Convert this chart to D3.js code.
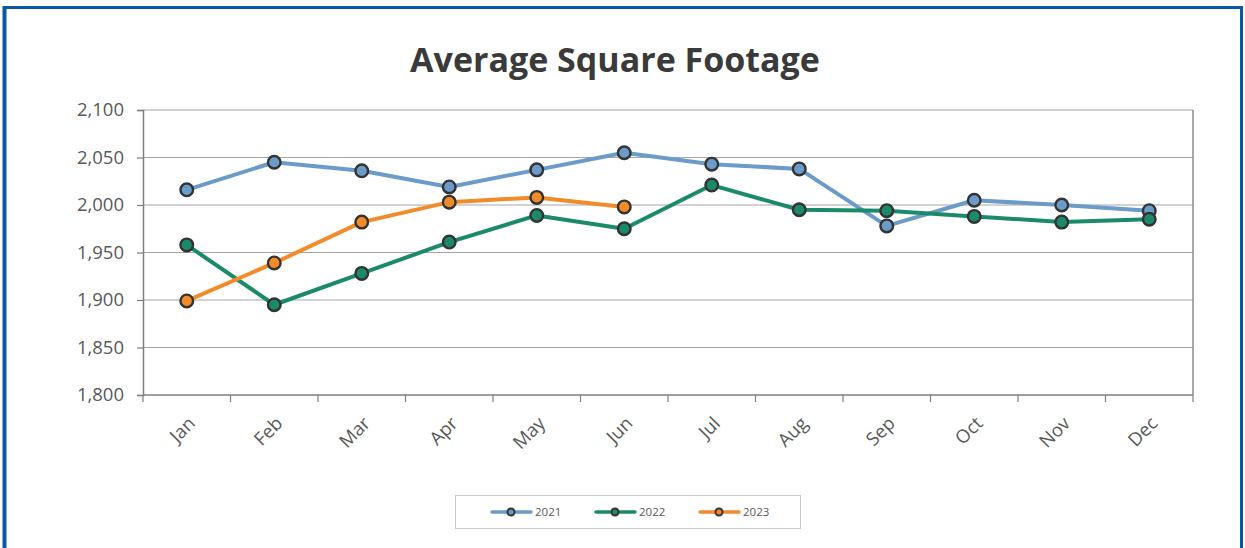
<!DOCTYPE html>
<html>
<head>
<meta charset="utf-8">
<script src="https://cdn.jsdelivr.net/npm/d3@7"></script>
<style>
  html, body { margin: 0; padding: 0; background: #fff; }
  svg { display: block; font-family: "Open Sans", "Noto Sans", sans-serif; }
</style>
</head>
<body>
<svg id="chart" width="1245" height="548"></svg>
<script>
// chart data
const months = ['Jan', 'Feb', 'Mar', 'Apr', 'May', 'Jun', 'Jul', 'Aug', 'Sep', 'Oct', 'Nov', 'Dec'];
const sqft2021 = [2016, 2045, 2036, 2019, 2037, 2055, 2043, 2038, 1978, 2005, 2000, 1994];
const sqft2022 = [1958, 1895, 1928, 1961, 1989, 1975, 2021, 1995, 1994, 1988, 1982, 1985];
const sqft2023 = [1899, 1939, 1982, 2003, 2008, 1998];
const yTicks = [1800, 1850, 1900, 1950, 2000, 2050, 2100];

const series = [
    { name: '2021', values: sqft2021, color: '#6b9bc8' },
    { name: '2022', values: sqft2022, color: '#1b8a6b' },
    { name: '2023', values: sqft2023, color: '#f28b2a' }
];

const svg = d3.select('#chart');
const plotLeft = 143, plotRight = 1193, plotTop = 110, plotBottom = 395;

// outer frame
svg.append('path')
    .attr('d', 'M5,548 L5,7.5 L1241.5,7.5 L1241.5,548')
    .attr('fill', 'none')
    .attr('stroke', '#0a58a4')
    .attr('stroke-width', 3);
svg.append('rect').attr('x', 2.5).attr('y', 6).attr('width', 2).attr('height', 542).attr('fill', '#0a58a4');

svg.append('text')
    .attr('x', 615)
    .attr('y', 72)
    .attr('text-anchor', 'middle')
    .attr('fill', '#3a3a3a')
    .style('font-size', '34px')
    .style('font-weight', 'bold')
    .text('Average Square Footage');

const x = d3.scaleBand().domain(months).range([plotLeft, plotRight]);
const y = d3.scaleLinear().domain([1800, 2100]).range([plotBottom, plotTop]);

// gridlines
svg.append('g')
    .selectAll('line')
    .data(yTicks.slice(1))
    .enter()
    .append('line')
    .attr('x1', plotLeft)
    .attr('x2', plotRight)
    .attr('y1', d => y(d))
    .attr('y2', d => y(d))
    .attr('stroke', '#a6a6a6')
    .attr('stroke-width', 1);

// right frame line
svg.append('line')
    .attr('x1', plotRight).attr('x2', plotRight)
    .attr('y1', plotTop).attr('y2', plotBottom)
    .attr('stroke', '#8c8c8c')
    .attr('stroke-width', 1.5);

const yAxis = svg.append('g')
    .attr('transform', `translate(${plotLeft},0)`)
    .call(d3.axisLeft(y).tickValues(yTicks).tickSize(6).tickPadding(13).tickFormat(d3.format(',')));
yAxis.select('.domain').attr('stroke', '#7f7f7f').attr('stroke-width', 1.5);
yAxis.selectAll('.tick line').attr('stroke', '#7f7f7f').attr('stroke-width', 1.2);
yAxis.selectAll('text')
    .attr('fill', '#595959')
    .style('font-size', '18.5px')
    .style('font-family', '"Open Sans", sans-serif');

// x axis with ticks at category boundaries
const xAxis = svg.append('g').attr('transform', `translate(0,${plotBottom})`);
xAxis.append('line')
    .attr('x1', plotLeft).attr('x2', plotRight)
    .attr('stroke', '#7f7f7f').attr('stroke-width', 1.5);
xAxis.selectAll('line.tk')
    .data(d3.range(months.length + 1))
    .enter()
    .append('line')
    .attr('class', 'tk')
    .attr('x1', i => plotLeft + i * x.step())
    .attr('x2', i => plotLeft + i * x.step())
    .attr('y1', 0)
    .attr('y2', 7)
    .attr('stroke', '#7f7f7f')
    .attr('stroke-width', 1.2);
xAxis.selectAll('text')
    .data(months)
    .enter()
    .append('text')
    .attr('transform', d => `translate(${x(d) + x.bandwidth() / 2 + 5},${25}) rotate(-45)`)
    .attr('text-anchor', 'end')
    .attr('dy', '0.35em')
    .attr('fill', '#595959')
    .style('font-size', '18.5px')
    .text(d => d);

const line = d3.line()
    .x((d, i) => x(months[i]) + x.bandwidth() / 2)
    .y(d => y(d));

const plot = svg.append('g');
series.forEach(s => {
    plot.append('path')
        .datum(s.values)
        .attr('d', line)
        .attr('fill', 'none')
        .attr('stroke', s.color)
        .attr('stroke-width', 4)
        .attr('stroke-linejoin', 'round');
});
series.forEach(s => {
    plot.append('g')
        .selectAll('circle')
        .data(s.values)
        .enter()
        .append('circle')
        .attr('cx', (d, i) => x(months[i]) + x.bandwidth() / 2)
        .attr('cy', d => y(d))
        .attr('r', 6.3)
        .attr('fill', s.color)
        .attr('stroke', '#333333')
        .attr('stroke-width', 2.4);
});

// legend
const legend = svg.append('g');
legend.append('rect')
    .attr('x', 455.5).attr('y', 495.5)
    .attr('width', 345).attr('height', 33)
    .attr('fill', '#fff')
    .attr('stroke', '#c9c9c9');
const item = legend.selectAll('g.item')
    .data(series)
    .enter()
    .append('g')
    .attr('class', 'item')
    .attr('transform', (d, i) => `translate(${492 + i * 104},512)`);
item.append('line')
    .attr('x1', 0).attr('x2', 39)
    .attr('stroke', d => d.color)
    .attr('stroke-width', 3.5)
    .attr('stroke-linecap', 'round');
item.append('circle')
    .attr('cx', 19).attr('r', 3.5)
    .attr('fill', d => d.color)
    .attr('stroke', '#333')
    .attr('stroke-width', 2);
item.append('text')
    .attr('x', 43)
    .attr('dy', '0.35em')
    .attr('fill', '#595959')
    .style('font-size', '11.5px')
    .text(d => d.name);
</script>
</body>
</html>
